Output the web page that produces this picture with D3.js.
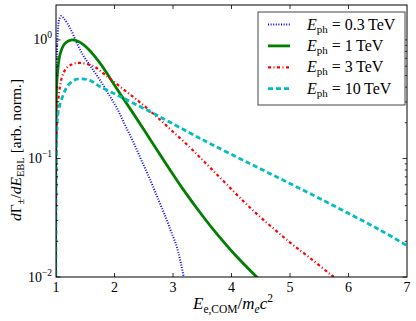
<!DOCTYPE html>
<html>
<head>
<meta charset="utf-8">
<script src="https://cdn.jsdelivr.net/npm/d3@7"></script>
<style>
  body { margin: 0; background: #fff; }
  text { font-family: "Liberation Serif", "DejaVu Serif", serif; fill: #000; }
</style>
</head>
<body>
<svg id="chart"></svg>
<script>
const width = 416;
const height = 321;
const margin = { top: 5, right: 9, bottom: 44, left: 56 };

// series (x = E_e,COM / m_e c^2)
const blueX = [1.0, 1.01, 1.03, 1.06, 1.09, 1.15, 1.24, 1.35, 1.46, 1.6, 1.75, 1.9, 2.04, 2.18, 2.32, 2.46, 2.61, 2.75, 2.88, 2.97, 3.06, 3.12, 3.18, 3.24];
const blueY = [0.001, 0.5, 1.15, 1.52, 1.59, 1.48, 1.26, 0.955, 0.747, 0.59, 0.46, 0.347, 0.267, 0.191, 0.138, 0.0966, 0.066, 0.045, 0.0315, 0.024, 0.0183, 0.0141, 0.0102, 0.0075];

const greenX = [1.0, 1.012, 1.04, 1.07, 1.15, 1.27, 1.4, 1.55, 1.75, 1.92, 2.11, 2.32, 2.66, 2.95, 3.17, 3.53, 3.75, 4.06, 4.44, 4.66];
const greenY = [0.001, 0.42, 0.62, 0.76, 0.93, 1.0, 0.96, 0.84, 0.64, 0.478, 0.343, 0.24, 0.1325, 0.0798, 0.0551, 0.0316, 0.0231, 0.0154, 0.0099, 0.0078];

const redX = [1.0, 1.015, 1.04, 1.1, 1.18, 1.3, 1.41, 1.64, 1.84, 2.15, 2.44, 2.72, 3.0, 3.29, 3.46, 3.66, 3.92, 4.2, 4.46, 4.74, 5.03, 5.34, 5.71, 5.94];
const redY = [0.001, 0.2, 0.31, 0.48, 0.58, 0.63, 0.64, 0.6, 0.507, 0.384, 0.296, 0.225, 0.168, 0.124, 0.102, 0.0813, 0.0603, 0.0437, 0.0331, 0.0251, 0.019, 0.0145, 0.01035, 0.0085];

const cyanX = [1.0, 1.012, 1.04, 1.12, 1.2, 1.32, 1.45, 1.6, 1.75, 2.0, 2.21, 2.78, 3.29, 3.68, 4.26, 4.83, 5.39, 5.97, 6.54, 7.0];
const cyanY = [0.001, 0.15, 0.25, 0.34, 0.41, 0.46, 0.47, 0.45, 0.404, 0.351, 0.312, 0.224, 0.164, 0.13, 0.0934, 0.0676, 0.0492, 0.035, 0.0249, 0.0184];

const energies = ["0.3", "1", "3", "10"];
const xTicks = [1, 2, 3, 4, 5, 6, 7];
const yMajor = [0.01, 0.1, 1];
const yExp = ["\u22122", "\u22121", "0"];

const series = [
    { x: blueX, y: blueY, color: "#0000ff", w: 2, dash: "1,1.6" },
    { x: greenX, y: greenY, color: "#007f00", w: 2.8, dash: null },
    { x: redX, y: redY, color: "#ff0000", w: 2.2, dash: "3,2.5,1,2.5" },
    { x: cyanX, y: cyanY, color: "#00bfbf", w: 2.8, dash: "5,3" }
];

const svg = d3.select("#chart")
    .attr("width", width)
    .attr("height", height);

const x = d3.scaleLinear().domain([1, 7]).range([margin.left, width - margin.right]);
const y = d3.scaleLog().domain([0.01, 1.97]).range([height - margin.bottom, margin.top]);

svg.append("clipPath").attr("id", "clip")
    .append("rect")
    .attr("x", margin.left).attr("y", margin.top)
    .attr("width", x(7) - x(1)).attr("height", y(0.01) - y(1.97));

const line = d3.line()
    .x(d => x(d[0]))
    .y(d => y(d[1]))
    .curve(d3.curveCatmullRom.alpha(0.5));

svg.append("g").attr("clip-path", "url(#clip)")
    .selectAll("path")
    .data(series)
    .enter().append("path")
    .attr("d", s => line(s.x.map((v, i) => [v, s.y[i]])))
    .attr("fill", "none")
    .attr("stroke", s => s.color)
    .attr("stroke-width", s => s.w)
    .attr("stroke-dasharray", s => s.dash);

// ticks, inward on all four sides
const tk = svg.append("g").attr("stroke", "#000").attr("stroke-width", 0.8);
const yb = y.range()[0], yt = y.range()[1], xl = x.range()[0], xr = x.range()[1];
xTicks.slice(1, -1).forEach(t => {
    tk.append("line").attr("x1", x(t)).attr("x2", x(t)).attr("y1", yb).attr("y2", yb - 4);
    tk.append("line").attr("x1", x(t)).attr("x2", x(t)).attr("y1", yt).attr("y2", yt + 4);
});
y.ticks().forEach(t => {
    const major = yMajor.some(m => Math.abs(m - t) < 1e-9);
    const len = major ? 4.5 : 2.2;
    tk.append("line").attr("x1", xl).attr("x2", xl + len).attr("y1", y(t)).attr("y2", y(t));
    tk.append("line").attr("x1", xr).attr("x2", xr - len).attr("y1", y(t)).attr("y2", y(t));
});

svg.append("rect")
    .attr("x", xl).attr("y", yt)
    .attr("width", xr - xl).attr("height", yb - yt)
    .attr("fill", "none").attr("stroke", "#000").attr("stroke-width", 1);

// tick labels
svg.selectAll(".xlab")
    .data(xTicks)
    .enter().append("text")
    .attr("class", "xlab")
    .attr("x", d => x(d)).attr("y", yb + 15)
    .attr("text-anchor", "middle")
    .attr("font-size", 14)
    .text(d => d);

yMajor.forEach((m, i) => {
    const t = svg.append("text")
        .attr("x", xl - 4).attr("y", y(m) + 4.5)
        .attr("text-anchor", "end")
        .attr("font-size", 14);
    t.append("tspan").text("10");
    t.append("tspan").attr("dy", -6).attr("font-size", 9.5).text(yExp[i]);
});

// axis titles
const xt = svg.append("text")
    .attr("x", 233).attr("y", 309)
    .attr("text-anchor", "middle")
    .attr("font-size", 17);
xt.append("tspan").attr("font-style", "italic").text("E");
xt.append("tspan").attr("dy", 3.5).attr("font-size", 11.5).text("e,COM");
xt.append("tspan").attr("dy", -3.5).text("/");
xt.append("tspan").attr("font-style", "italic").text("m");
xt.append("tspan").attr("dy", 3.5).attr("font-size", 11.5).attr("font-style", "italic").text("e");
xt.append("tspan").attr("dy", -3.5).attr("font-style", "italic").text("c");
xt.append("tspan").attr("dy", -7).attr("font-size", 11.5).text("2");

const yl = svg.append("text")
    .attr("transform", "translate(21,150) rotate(-90)")
    .attr("text-anchor", "middle")
    .attr("font-size", 15.5);
yl.append("tspan").attr("font-style", "italic").text("d");
yl.append("tspan").text("\u0393");
yl.append("tspan").attr("dy", 3).attr("font-size", 10.5).text("\u00b1");
yl.append("tspan").attr("dy", -3).text("/");
yl.append("tspan").attr("font-style", "italic").text("dE");
yl.append("tspan").attr("dy", 3).attr("font-size", 10.5).text("EBL");
yl.append("tspan").attr("dy", -3).text(" [arb. norm.]");

// legend
const lg = svg.append("g");
lg.append("rect")
    .attr("x", 258).attr("y", 12)
    .attr("width", 147).attr("height", 93)
    .attr("fill", "#fff").attr("stroke", "#444").attr("stroke-width", 1);

series.forEach((s, i) => {
    const ly = 24.5 + i * 21.4;
    lg.append("line")
        .attr("x1", 268).attr("x2", 290)
        .attr("y1", ly).attr("y2", ly)
        .attr("stroke", s.color)
        .attr("stroke-width", s.w)
        .attr("stroke-dasharray", s.dash);
    const t = lg.append("text")
        .attr("x", 307).attr("y", ly + 5)
        .attr("font-size", 16);
    t.append("tspan").attr("font-style", "italic").text("E");
    t.append("tspan").attr("dy", 3).attr("font-size", 11).text("ph");
    t.append("tspan").attr("dy", -3).text(" = " + energies[i] + "\u2009TeV");
});
</script>
</body>
</html>
